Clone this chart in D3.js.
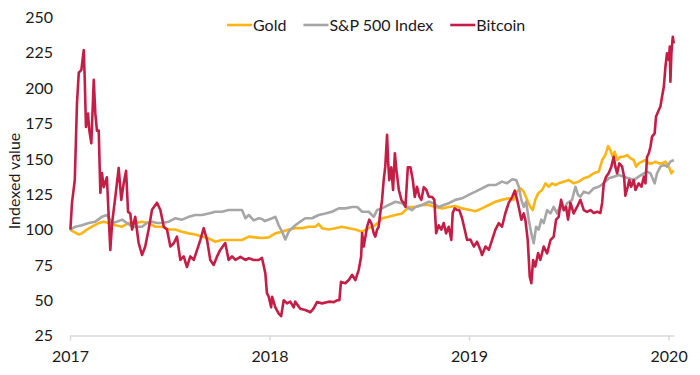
<!DOCTYPE html>
<html>
<head>
  <meta charset="UTF-8">
  <title>Gold, S&amp;P 500 and Bitcoin, indexed</title>
  <script src="https://d3js.org/d3.v7.min.js"></script>
  <style>
    body { margin: 0; background: #fff; }
    text { font-family: Lato, "Open Sans", sans-serif; fill: #1a1a1a; }
  </style>
</head>
<body>
  <div id="chart"></div>

  <script>
    // time is in fractional years, values are indexed to 100 at the start of 2017
    const yearTicks = [2017, 2018, 2019, 2020];
    const valueTicks = [25, 50, 75, 100, 125, 150, 175, 200, 225, 250];

    const goldT = [2017.000, 2017.017, 2017.044, 2017.060, 2017.085, 2017.110, 2017.144, 2017.169, 2017.194, 2017.227,
      2017.261, 2017.294, 2017.327, 2017.361, 2017.394, 2017.428, 2017.461, 2017.495, 2017.528, 2017.561,
      2017.595, 2017.628, 2017.662, 2017.695, 2017.728, 2017.762, 2017.795, 2017.829, 2017.862, 2017.896,
      2017.929, 2017.962, 2017.996, 2018.029, 2018.063, 2018.096, 2018.129, 2018.163, 2018.196, 2018.229,
      2018.246, 2018.263, 2018.296, 2018.330, 2018.363, 2018.397, 2018.430, 2018.464, 2018.497, 2018.530,
      2018.564, 2018.597, 2018.631, 2018.664, 2018.698, 2018.731, 2018.764, 2018.798, 2018.831, 2018.865,
      2018.898, 2018.931, 2018.965, 2018.998, 2019.032, 2019.065, 2019.099, 2019.132, 2019.165, 2019.199,
      2019.224, 2019.241, 2019.257, 2019.274, 2019.291, 2019.307, 2019.319, 2019.332, 2019.346, 2019.366,
      2019.383, 2019.399, 2019.416, 2019.433, 2019.449, 2019.475, 2019.500, 2019.525, 2019.550, 2019.575,
      2019.600, 2019.625, 2019.650, 2019.667, 2019.683, 2019.697, 2019.708, 2019.720, 2019.730, 2019.742,
      2019.758, 2019.775, 2019.792, 2019.809, 2019.825, 2019.837, 2019.850, 2019.867, 2019.884, 2019.901,
      2019.917, 2019.934, 2019.951, 2019.967, 2019.984, 2020.001, 2020.014, 2020.024];
    const goldV = [100, 98.5, 96.5, 97.3, 100, 102, 104.6, 105.6, 104.6, 103,
      102, 104.6, 104.6, 105.6, 104.6, 102, 102, 100, 100, 98.5,
      97.3, 96.5, 95, 93.8, 91.4, 92.6, 92.6, 92.6, 92.6, 95,
      94.5, 94, 94.5, 97.3, 98.5, 100, 101, 101, 102, 102,
      104, 101, 100, 101, 102, 101, 100, 98.5, 101, 103,
      108, 109, 110.3, 111.4, 116, 116, 117.4, 117.4, 116, 115,
      116, 116.7, 115, 114, 113, 115, 117.4, 119.7, 121, 122.1,
      121, 126.8, 129.2, 126.8, 121, 116, 113.8, 121, 125.6, 128,
      132.7, 130.3, 132.7, 131.5, 132.7, 133.9, 135, 132.7, 133.9, 136.3,
      137.4, 139.8, 141, 149.2, 152.7, 159, 156.3, 151.5, 155, 149.2,
      151.5, 151.5, 152.7, 150.4, 149.2, 144.5, 146.8, 148, 149.2, 146.8,
      146.8, 148, 146.8, 146.8, 148, 144.5, 139.8, 142];

    const spT = [2017.000, 2017.027, 2017.060, 2017.094, 2017.127, 2017.160, 2017.185, 2017.211, 2017.236, 2017.261,
      2017.286, 2017.311, 2017.336, 2017.361, 2017.386, 2017.411, 2017.436, 2017.461, 2017.495, 2017.528,
      2017.561, 2017.595, 2017.628, 2017.662, 2017.695, 2017.728, 2017.762, 2017.795, 2017.829, 2017.862,
      2017.879, 2017.896, 2017.921, 2017.946, 2017.962, 2017.977, 2018.013, 2018.029, 2018.046, 2018.063,
      2018.079, 2018.096, 2018.113, 2018.129, 2018.154, 2018.179, 2018.213, 2018.246, 2018.280, 2018.313,
      2018.347, 2018.380, 2018.414, 2018.439, 2018.464, 2018.497, 2018.522, 2018.539, 2018.564, 2018.597,
      2018.631, 2018.664, 2018.698, 2018.714, 2018.731, 2018.764, 2018.798, 2018.823, 2018.848, 2018.873,
      2018.898, 2018.931, 2018.965, 2018.998, 2019.032, 2019.065, 2019.099, 2019.132, 2019.165, 2019.190,
      2019.216, 2019.236, 2019.249, 2019.262, 2019.274, 2019.286, 2019.299, 2019.312, 2019.324, 2019.336,
      2019.349, 2019.362, 2019.374, 2019.391, 2019.408, 2019.424, 2019.441, 2019.458, 2019.475, 2019.491,
      2019.516, 2019.533, 2019.546, 2019.558, 2019.575, 2019.600, 2019.625, 2019.650, 2019.675, 2019.700,
      2019.725, 2019.750, 2019.775, 2019.800, 2019.825, 2019.850, 2019.876, 2019.892, 2019.909, 2019.930,
      2019.942, 2019.959, 2019.976, 2019.992, 2020.009, 2020.026];
    const spV = [100, 102, 103, 104.6, 105.6, 109, 110.3, 104.6, 105.6, 107,
      104.6, 102, 102, 102, 104.6, 105.6, 104.6, 104.6, 105.6, 108,
      107, 109, 110.3, 110.3, 111.4, 112.6, 112.6, 113.8, 113.8, 113.8,
      108, 110.3, 106.5, 108, 107.5, 106, 108, 109, 103, 98.5,
      93, 98.5, 101, 103, 105.6, 108, 108, 110.3, 111.4, 112.6,
      115, 115, 116, 116, 112.6, 112.6, 109, 113.8, 115, 117.4,
      119.7, 118.6, 115, 113.8, 116, 117.4, 119.7, 118.6, 116, 117.4,
      118.6, 121, 122.1, 124.5, 126.8, 129.2, 131.5, 131.5, 133.9, 132.7,
      135.6, 135, 130.3, 121, 116, 119.7, 107, 97.3, 90.3, 102,
      100, 107, 104.6, 113.8, 111.4, 116, 111.4, 117.4, 113.8, 118.6,
      121, 130.3, 124.5, 123.3, 126.8, 125.6, 129.2, 130.3, 132.7, 136.3,
      137.4, 138.6, 137.4, 136.3, 135, 137.4, 139.8, 141, 139.8, 132.7,
      139.8, 144.5, 145.7, 144.5, 148, 149.2];

    const btcT = [2017.002, 2017.010, 2017.024, 2017.035, 2017.044, 2017.057, 2017.069, 2017.074, 2017.080, 2017.090,
      2017.097, 2017.107, 2017.119, 2017.127, 2017.135, 2017.144, 2017.152, 2017.160, 2017.169, 2017.185,
      2017.194, 2017.202, 2017.211, 2017.227, 2017.244, 2017.257, 2017.269, 2017.281, 2017.291, 2017.302,
      2017.311, 2017.327, 2017.344, 2017.361, 2017.377, 2017.394, 2017.411, 2017.436, 2017.453, 2017.470,
      2017.486, 2017.503, 2017.520, 2017.536, 2017.553, 2017.570, 2017.586, 2017.603, 2017.620, 2017.637,
      2017.653, 2017.670, 2017.687, 2017.703, 2017.720, 2017.737, 2017.753, 2017.778, 2017.795, 2017.812,
      2017.829, 2017.854, 2017.879, 2017.896, 2017.921, 2017.946, 2017.962, 2017.979, 2017.987, 2017.996,
      2018.008, 2018.013, 2018.029, 2018.046, 2018.058, 2018.071, 2018.088, 2018.104, 2018.121, 2018.129,
      2018.154, 2018.179, 2018.205, 2018.221, 2018.238, 2018.263, 2018.297, 2018.322, 2018.338, 2018.350,
      2018.358, 2018.380, 2018.397, 2018.414, 2018.430, 2018.447, 2018.459, 2018.464, 2018.472, 2018.489,
      2018.500, 2018.510, 2018.522, 2018.530, 2018.539, 2018.547, 2018.555, 2018.564, 2018.572, 2018.580,
      2018.589, 2018.594, 2018.600, 2018.610, 2018.619, 2018.628, 2018.636, 2018.648, 2018.661, 2018.673,
      2018.681, 2018.693, 2018.706, 2018.718, 2018.728, 2018.739, 2018.751, 2018.761, 2018.773, 2018.786,
      2018.798, 2018.815, 2018.826, 2018.835, 2018.848, 2018.861, 2018.873, 2018.885, 2018.898, 2018.911,
      2018.918, 2018.928, 2018.940, 2018.951, 2018.965, 2018.978, 2018.990, 2019.006, 2019.024, 2019.040,
      2019.057, 2019.065, 2019.082, 2019.099, 2019.115, 2019.132, 2019.149, 2019.165, 2019.182, 2019.199,
      2019.216, 2019.229, 2019.241, 2019.252, 2019.262, 2019.274, 2019.282, 2019.294, 2019.304, 2019.312,
      2019.321, 2019.332, 2019.346, 2019.357, 2019.374, 2019.391, 2019.408, 2019.424, 2019.436, 2019.449,
      2019.461, 2019.475, 2019.486, 2019.496, 2019.508, 2019.524, 2019.541, 2019.558, 2019.575, 2019.591,
      2019.608, 2019.625, 2019.642, 2019.658, 2019.667, 2019.675, 2019.687, 2019.700, 2019.713, 2019.725,
      2019.733, 2019.742, 2019.753, 2019.767, 2019.777, 2019.783, 2019.795, 2019.803, 2019.812, 2019.825,
      2019.834, 2019.850, 2019.864, 2019.876, 2019.884, 2019.892, 2019.901, 2019.909, 2019.917, 2019.930,
      2019.937, 2019.951, 2019.959, 2019.967, 2019.976, 2019.984, 2019.992, 2020.001, 2020.006, 2020.009,
      2020.014, 2020.021, 2020.026];
    const btcV = [100, 119, 135, 189.5, 211, 213, 227, 206, 172.5, 182,
      170, 161, 206, 182, 170, 170, 126, 140, 130, 137,
      109, 85.6, 104.6, 123, 143.6, 121, 132.7, 141.5, 112.5, 111.4,
      100, 109, 90.5, 82, 88, 100, 114, 119, 113.8, 102,
      100, 88, 90.3, 95, 78.5, 81, 73.5, 81, 78.5, 85.6,
      92.6, 101, 92.6, 78.5, 75, 81, 85.6, 90.5, 78.5, 81,
      78.5, 80.7, 78.5, 79.7, 78.5, 78.5, 80, 69, 55, 52.5,
      45, 52.5, 45, 40.5, 38.7, 50, 47.8, 49, 45, 49,
      44, 43.1, 41.5, 44.3, 48.7, 47.8, 49, 48.7, 50, 50,
      63, 62, 64.3, 68, 64.3, 71.5, 80.7, 97.5, 88, 102,
      107, 104.6, 97.5, 95, 100, 102, 111.7, 121, 135, 144.5,
      167, 149.2, 135, 144, 128, 154, 142, 128, 121, 118.6,
      116, 144, 144, 135, 123, 130.3, 123.3, 121, 130, 128,
      123.3, 123, 121, 97.5, 103, 100, 104.6, 97.3, 102, 92.6,
      111.7, 115, 113.8, 113.8, 108, 100, 92.6, 93, 88, 91.4,
      85.6, 82, 88, 85.6, 92.6, 100, 104.6, 102, 111.7, 119,
      123, 127.5, 121, 113.8, 107, 111.4, 107, 92.6, 66.7, 62,
      78.5, 73.8, 83.4, 78.5, 88, 83.2, 92.6, 95, 107, 109,
      121, 113.8, 116, 107, 119, 111.4, 116, 121, 113.8, 112.5,
      113.8, 111.7, 112.6, 111.7, 119, 132.7, 137.4, 140, 144.5, 151.5,
      144.5, 139.8, 146.8, 144.5, 137.4, 124, 130.3, 135, 130.3, 135,
      128, 132.7, 130.3, 137.4, 132.7, 151.5, 154, 158.6, 165.7, 168,
      180, 184.6, 187, 194, 201, 215, 224.7, 220, 229.4, 204.6,
      224.7, 236.4, 231.7];

    const seriesNames = ["Gold", "S&P 500 Index", "Bitcoin"];
    const seriesColors = ["#FDB515", "#A6A6A6", "#C41E47"];

    const width = 700, height = 375;
    const svg = d3.select("#chart").append("svg")
      .attr("width", width)
      .attr("height", height);

    const x = d3.scaleLinear()
      .domain([2017, 2020.027])
      .range([70, 674]);

    const y = d3.scaleLinear()
      .domain([25, 250])
      .range([335.6, 17.5]);

    // bottom axis
    const xAxis = svg.append("g")
      .attr("transform", "translate(0," + y(25) + ")")
      .call(d3.axisBottom(x)
        .tickValues(yearTicks)
        .tickFormat(d3.format("d"))
        .tickSize(5)
        .tickSizeOuter(0)
        .tickPadding(10));
    xAxis.select(".domain").attr("stroke", "#d9d9d9").attr("stroke-width", 1.5);
    xAxis.selectAll(".tick line").attr("stroke", "#d9d9d9").attr("stroke-width", 1.5);
    xAxis.selectAll("text").style("font-size", "16px").attr("fill", "#1a1a1a");

    // left labels only
    const yAxis = svg.append("g")
      .attr("transform", "translate(70,0)")
      .call(d3.axisLeft(y)
        .tickValues(valueTicks)
        .tickSize(0)
        .tickPadding(17));
    yAxis.select(".domain").remove();
    yAxis.selectAll("text").style("font-size", "16px").attr("fill", "#1a1a1a");

    svg.append("text")
      .attr("transform", "translate(14,181) rotate(-90)")
      .attr("text-anchor", "middle")
      .attr("dy", "0.35em")
      .style("font-size", "16px")
      .text("Indexed value");

    const series = [
      { t: goldT, v: goldV },
      { t: spT, v: spV },
      { t: btcT, v: btcV }
    ];

    const line = d3.line()
      .x(d => x(d[0]))
      .y(d => y(d[1]));

    series.forEach(function(s, i) {
      svg.append("path")
        .datum(d3.zip(s.t, s.v))
        .attr("fill", "none")
        .attr("stroke", seriesColors[i])
        .attr("stroke-width", 2.6)
        .attr("stroke-linejoin", "round")
        .attr("d", line);
    });

    // legend, laid out left to right
    let lx = 227;
    seriesNames.forEach(function(name, i) {
      const g = svg.append("g").attr("transform", "translate(" + lx + ",25)");
      g.append("line")
        .attr("x1", 0).attr("x2", 25)
        .attr("stroke", seriesColors[i])
        .attr("stroke-width", 2.6);
      const t = g.append("text")
        .attr("x", 26)
        .attr("dy", "0.35em")
        .style("font-size", "16px")
        .text(name);
      lx += 26 + t.node().getComputedTextLength() + 17;
    });
  </script>
</body>
</html>
